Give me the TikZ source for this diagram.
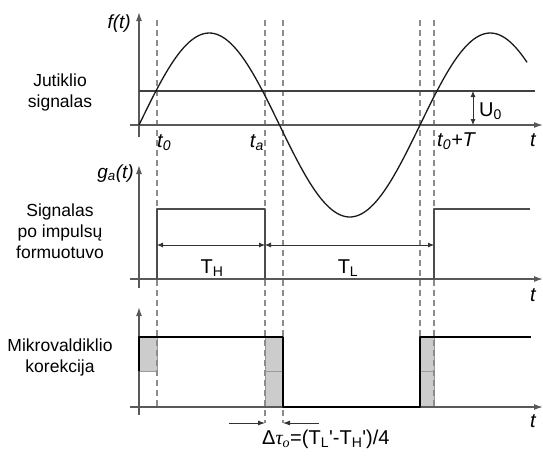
\documentclass[tikz,border=0pt]{standalone}
\usepackage{fontspec}
\setmainfont{Liberation Sans}
\newfontfamily\greekserif{Liberation Serif}
\usetikzlibrary{arrows.meta}

\newcommand{\sbs}[1]{\textsubscript{#1}}

\tikzset{
  axis/.style={line width=1.4pt,black!65,-{Latex[length=9pt,width=6pt]}},
  guide/.style={line width=1.1pt,black!45,dash pattern=on 6pt off 4pt},
  pulse/.style={line width=1.4pt,black!70},
  dim/.style={line width=0.8pt,black!80,{Latex[length=6pt,width=5pt]}-{Latex[length=6pt,width=5pt]}},
  shade/.style={fill=black!20,draw=black!40,line width=0.8pt},
  lbl/.style={font=\fontsize{17.5}{21}\selectfont,inner sep=0pt},
  qty/.style={font=\fontsize{20}{24}\selectfont,inner sep=0pt},
  var/.style={font=\fontsize{20}{24}\selectfont\itshape,inner sep=0pt}
}

\begin{document}
\begin{tikzpicture}[x=1pt,y=-1pt,>=Latex,line join=round]
  \useasboundingbox (0,0) rectangle (543,456);

  % time instants
  \coordinate (t0) at (157,0);
  \coordinate (ta) at (265,0);
  \coordinate (tz) at (283,0);
  \coordinate (tu) at (420,0);
  \coordinate (tT) at (434,0);

  % shaded correction intervals
  \draw[shade] (139,337) rectangle (157,371);
  \draw[shade] (265,337) rectangle (283,407);
  \draw[shade] (420,337) rectangle (434,407);
  \draw[black!40,line width=0.8pt] (265,371) -- (283,371) (420,371) -- (434,371);

  % dashed guides
  \foreach \c/\e in {t0/407,tu/407,tT/407,ta/423,tz/423}
    \draw[guide] (\c |- 0,20) -- (\c |- 0,\e);

  % axes
  \draw[axis] (139,137) -- (139,12);
  \draw[axis] (130,125) -- (543,125);
  \draw[axis] (139,288) -- (139,165);
  \draw[axis] (130,279) -- (543,279);
  \draw[axis] (139,415) -- (139,307);
  \draw[axis] (130,407) -- (543,407);

  % sensor signal and threshold
  \draw[line width=1.3pt,black!75] (139,91) -- (535,91);
  \draw[line width=1.3pt,black!90,smooth]
    plot[domain=139:527,samples=140] (\x,{125-92*sin((\x-139)/281*360)});
  \draw[dim] (473,91) -- (473,125);

  % shaped pulses
  \draw[pulse] (157,279) -- (157,209) -- (265,209) -- (265,279);
  \draw[pulse] (434,279) -- (434,209) -- (530,209);
  \draw[dim] (157,245) -- (265,245);
  \draw[dim] (265,245) -- (434,245);

  % corrected output
  \draw[line width=2.6pt,black,line cap=butt]
    (139,371) -- (139,337) -- (283,337) -- (283,407) -- (420,407)
    -- (420,337) -- (531,337);
  \draw[line width=0.8pt,black!80,-{Latex[length=7pt,width=5pt]}] (229,423) -- (ta |- 0,423);
  \draw[line width=0.8pt,black!80,-{Latex[length=7pt,width=5pt]}] (319,423) -- (tz |- 0,423);

  % labels
  \node[var,anchor=base east,font=\fontsize{19}{22}\selectfont\itshape] (ft) at (131,28) {f(t)};
  \node[var,anchor=base east,font=\fontsize{19}{22}\selectfont\itshape] (gt) at (134,178) {g\sbs{a}(t)};
  \node[var,anchor=base west] (lt0) at (157,147) {t\sbs{0}};
  \node[var,anchor=base east] (lta) at (264,147) {t\sbs{a}};
  \node[var,anchor=base west] (ltT) at (437,146) {t\sbs{0}+T};
  \node[var,anchor=base] (tx1) at (533,146) {t};
  \node[var,anchor=base] (tx2) at (533,301) {t};
  \node[var,anchor=base] (tx3) at (533,427) {t};
  \node[qty,anchor=base west] (u0) at (479,116) {U\sbs{0}};
  \node[qty,anchor=base] (th) at (212,273) {T\sbs{H}};
  \node[qty,anchor=base] (tl) at (348,273) {T\sbs{L}};
  \node[qty,anchor=base west] (dtau) at (262,444)
    {Δ{\greekserif\itshape τ\sbs{o}}=(T\sbs{L}\textquotesingle-T\sbs{H}\textquotesingle)/4};

  \node[lbl,align=center] (sens) at (60,92) {Jutiklio\\signalas};
  \node[lbl,align=center] (form) at (60,231) {Signalas\\po impulsų\\formuotuvo};
  \node[lbl,align=center] (mcu) at (60,357) {Mikrovaldiklio\\korekcija};
\end{tikzpicture}
\end{document}
